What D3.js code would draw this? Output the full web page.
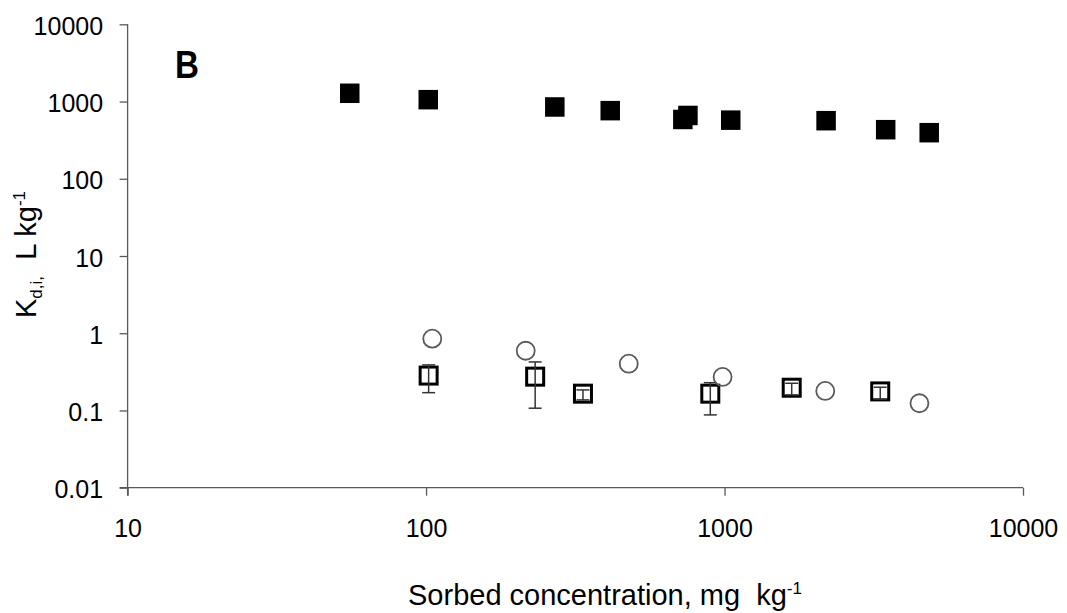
<!DOCTYPE html>
<html>
<head>
<meta charset="utf-8">
<script src="https://cdn.jsdelivr.net/npm/d3@7/dist/d3.min.js"></script>
<style>
  html, body { margin: 0; padding: 0; background: #fff; }
  svg { display: block; font-family: "Liberation Sans", Arial, sans-serif; }
</style>
</head>
<body>
<svg id="chart" width="1067" height="613"></svg>
<script>
// ---- Data ----
const xTicks = [10, 100, 1000, 10000];
const yTicks = [0.01, 0.1, 1, 10, 100, 1000, 10000];

// filled squares
const filledX = [55.5, 101.7, 270, 414, 725, 754, 1049, 2189, 3467, 4850];
const filledY = [1279, 1057, 850, 762, 586, 660, 574, 565, 432, 395];

// open circles
const circleX = [104.9, 215.7, 477.6, 985, 2175, 4498];
const circleY = [0.851, 0.593, 0.403, 0.272, 0.179, 0.124];

// open squares with error bars
const openX  = [102, 232, 335.5, 896, 1679, 3324];
const openY  = [0.283, 0.274, 0.165, 0.165, 0.197, 0.1765];
const openHi = [0.389, 0.425, 0.1845, 0.229, 0.225, 0.2];
const openLo = [0.170, 0.107, 0.137, 0.0876, 0.159, 0.140];

// ---- Layout ----
const svg = d3.select("#chart");
const x = d3.scaleLog().domain([10, 10000]).range([127.6, 1023]);
const y = d3.scaleLog().domain([0.01, 10000]).range([487.7, 24.3]);
const axisColor = "#595959";

// X axis
const gx = svg.append("g").attr("transform", `translate(0,${y(0.01)})`)
  .call(d3.axisBottom(x).tickValues(xTicks).tickSize(8).tickSizeOuter(0)
        .tickFormat(d3.format("d")));
gx.select(".domain").attr("stroke", axisColor).attr("stroke-width", 1.3)
  .attr("d", `M${x(10) - 8},0H${x(10000)}`);
gx.selectAll(".tick line").attr("stroke", axisColor).attr("stroke-width", 1.3);
gx.selectAll(".tick text").attr("y", 49).attr("dy", 0)
  .attr("font-size", 25).attr("fill", "#000")
  .attr("font-family", "Liberation Sans, Arial, sans-serif");

// Y axis
const gy = svg.append("g").attr("transform", `translate(${x(10)},0)`)
  .call(d3.axisLeft(y).tickValues(yTicks).tickSize(8).tickSizeOuter(0)
        .tickFormat(d => String(d)));
gy.select(".domain").attr("stroke", axisColor).attr("stroke-width", 1.3)
  .attr("d", `M0,${y(10000)}V${y(0.01) + 8}`);
gy.selectAll(".tick line").attr("stroke", axisColor).attr("stroke-width", 1.3);
gy.selectAll(".tick text").attr("x", -24.5).attr("dy", 0).attr("y", 10)
  .attr("font-size", 25).attr("fill", "#000")
  .attr("font-family", "Liberation Sans, Arial, sans-serif");

// ---- Marks ----
// filled squares
const fs = 19.5;
svg.append("g").selectAll("rect").data(filledX.map((d, i) => [d, filledY[i]]))
  .join("rect")
  .attr("x", d => x(d[0]) - fs / 2).attr("y", d => y(d[1]) - fs / 2)
  .attr("width", fs).attr("height", fs).attr("fill", "#000");

// open squares
const os = 17;
const openData = openX.map((d, i) => ({x: d, y: openY[i], hi: openHi[i], lo: openLo[i]}));
svg.append("g").selectAll("rect").data(openData).join("rect")
  .attr("x", d => x(d.x) - os / 2).attr("y", d => y(d.y) - os / 2)
  .attr("width", os).attr("height", os)
  .attr("fill", "none").attr("stroke", "#000").attr("stroke-width", 3);

// error bars
const eb = svg.append("g").attr("stroke", "#333").attr("stroke-width", 1.5);
eb.selectAll("line.v").data(openData).join("line").attr("class", "v")
  .attr("x1", d => x(d.x)).attr("x2", d => x(d.x))
  .attr("y1", d => y(d.hi)).attr("y2", d => y(d.lo));
eb.selectAll("line.h").data(openData).join("line").attr("class", "h")
  .attr("x1", d => x(d.x) - 6.5).attr("x2", d => x(d.x) + 6.5)
  .attr("y1", d => y(d.hi)).attr("y2", d => y(d.hi));
eb.selectAll("line.l").data(openData).join("line").attr("class", "l")
  .attr("x1", d => x(d.x) - 6.5).attr("x2", d => x(d.x) + 6.5)
  .attr("y1", d => y(d.lo)).attr("y2", d => y(d.lo));

// open circles
svg.append("g").selectAll("circle").data(circleX.map((d, i) => [d, circleY[i]]))
  .join("circle")
  .attr("cx", d => x(d[0])).attr("cy", d => y(d[1])).attr("r", 9)
  .attr("fill", "none").attr("stroke", "#5a5a5a").attr("stroke-width", 1.8);

// ---- Text ----
// panel label
svg.append("text").attr("x", 175).attr("y", 78)
  .attr("font-size", 39).attr("font-weight", "bold")
  .attr("textLength", 24).attr("lengthAdjust", "spacingAndGlyphs")
  .attr("fill", "#000").text("B");

// x title
const xt = svg.append("text").attr("x", 408).attr("y", 605)
  .attr("font-size", 29).attr("fill", "#000")
  .attr("xml:space", "preserve");
xt.append("tspan").text("Sorbed concentration, mg  kg");
xt.append("tspan").attr("dy", -11).attr("font-size", 17).text("-1");

// y title
const yt = svg.append("text")
  .attr("transform", "translate(36,318) rotate(-90)")
  .attr("font-size", 29).attr("fill", "#000")
  .attr("xml:space", "preserve");
yt.append("tspan").text("K");
yt.append("tspan").attr("dy", 6).attr("font-size", 17).text("d,i,");
yt.append("tspan").attr("dy", -6).text("  L kg");
yt.append("tspan").attr("dy", -11).attr("font-size", 17).text("-1");
</script>
</body>
</html>
